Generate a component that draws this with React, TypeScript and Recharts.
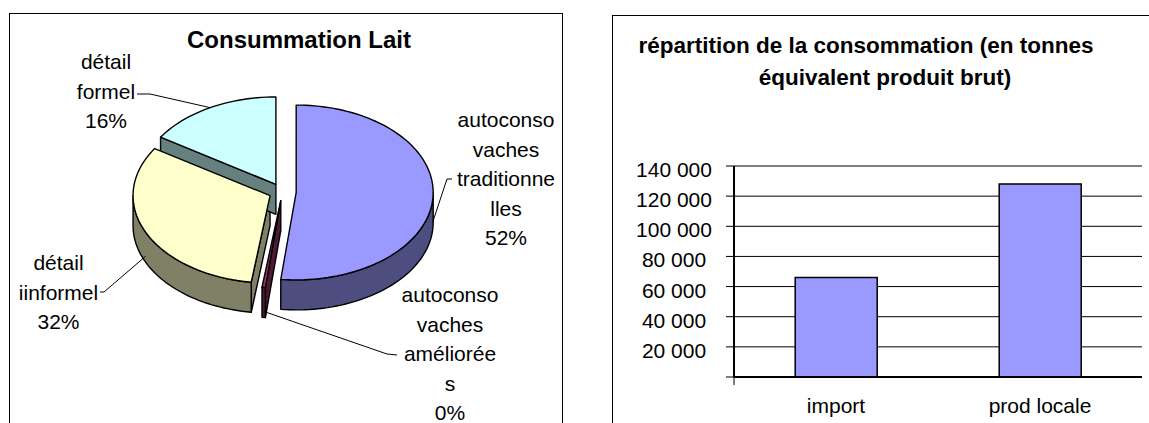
import React from 'react';
import { PieChart, Pie, BarChart, Bar, XAxis, YAxis, CartesianGrid } from 'recharts';

// pie: Consummation Lait
const pieNames = [
  'autoconso vaches traditionnelles',
  'autoconso vaches améliorées',
  'détail iinformel',
  'détail formel',
];
const pieValues = [52, 0.4, 32, 16];
const pieLabelLines = [
  ['autoconso', 'vaches', 'traditionne', 'lles'],
  ['autoconso', 'vaches', 'améliorée', 's'],
  ['détail', 'iinformel'],
  ['détail', 'formel'],
];
const pieColors = ['#9999FF', '#993366', '#FFFFCC', '#CCFFFF'];
const pieSideColors = ['#4D4D80', '#4D1A33', '#808066', '#668080'];

// bars: répartition de la consommation
const barCategories = ['import', 'prod locale'];
const barValues = [66000, 128000];
const yTicks = [0, 20000, 40000, 60000, 80000, 100000, 120000, 140000];

const FONT = 'Arial, "Liberation Sans", sans-serif';
const TILT = 0.638;
const DEPTH = 30;
const EXPLODE = 0.1;
const RAD = Math.PI / 180;
const LINE_H = 29.5;

// label placement relative to pie centre (Excel moved these by hand)
const pieLabelLayout = [
  { tx: 223.5, ty: -65, lead: [[169.5, -13], [164.5, -13]] },
  { tx: 167.5, ty: 110, lead: [[114.5, 163], [104.5, 162]] },
  { tx: -224, ty: 78, lead: [[-182.5, 100], [-178.5, 100]] },
  { tx: -176.5, ty: -123, lead: [[-145.5, -98], [-132.5, -98]] },
];

const pieData = pieNames.map((name, i) => ({
  name,
  value: pieValues[i],
  fill: pieColors[i],
  side: pieSideColors[i],
}));
const barData = barCategories.map((name, i) => ({ name, value: barValues[i] }));
const edgeTicks = [...barCategories.map((_, i) => i), barCategories.length];

type Pt = [number, number];

function geom(p: any) {
  const rx = p.outerRadius;
  const ry = rx * TILT;
  const mid = (p.startAngle + p.endAngle) / 2;
  const ox = p.cx + EXPLODE * rx * Math.cos(mid * RAD);
  const oy = p.cy - EXPLODE * ry * Math.sin(mid * RAD);
  return { rx, ry, ox, oy };
}

function ept(g: any, a: number): Pt {
  return [g.ox + g.rx * Math.cos(a * RAD), g.oy - g.ry * Math.sin(a * RAD)];
}

function arcPts(g: any, from: number, to: number): Pt[] {
  const n = Math.max(2, Math.ceil(Math.abs(to - from) / 2) + 1);
  const pts: Pt[] = [];
  for (let i = 0; i < n; i++) pts.push(ept(g, from + ((to - from) * i) / (n - 1)));
  return pts;
}

const toPath = (pts: Pt[]) => 'M' + pts.map((p) => p[0].toFixed(2) + ',' + p[1].toFixed(2)).join('L') + 'Z';

function SliceSide(props: any) {
  const g = geom(props);
  const side = props.payload?.side ?? props.side;
  const s = props.startAngle;
  const e = props.endAngle;
  const parts: Pt[][] = [];
  const radial = (a: number): Pt[] => {
    const [px, py] = ept(g, a);
    return [[g.ox, g.oy], [px, py], [px, py + DEPTH], [g.ox, g.oy + DEPTH]];
  };
  if (Math.cos(s * RAD) < -1e-6) parts.push(radial(s));
  if (Math.cos(e * RAD) > 1e-6) parts.push(radial(e));
  const hi = Math.min(s, 0);
  const lo = Math.max(e, -180);
  if (hi > lo) {
    const top = arcPts(g, hi, lo);
    const bottom = top.map(([x, y]) => [x, y + DEPTH] as Pt).reverse();
    parts.push([...top, ...bottom]);
  }
  return (
    <g>
      {parts.map((p, i) => (
        <path key={i} d={toPath(p)} fill={side} stroke="#000" strokeWidth={1.4} strokeLinejoin="round" />
      ))}
    </g>
  );
}

function SliceTop(props: any) {
  const g = geom(props);
  const pts: Pt[] = [[g.ox, g.oy], ...arcPts(g, props.startAngle, props.endAngle)];
  return <path d={toPath(pts)} fill={props.fill} stroke="#000" strokeWidth={1.4} strokeLinejoin="round" />;
}

function PieLabel(props: any) {
  const { cx, cy, midAngle, outerRadius, percent, index } = props;
  const lay = pieLabelLayout[index];
  const rx = outerRadius;
  const ry = rx * TILT;
  const ox = cx + EXPLODE * rx * Math.cos(midAngle * RAD);
  const oy = cy - EXPLODE * ry * Math.sin(midAngle * RAD);
  const ex = ox + rx * Math.cos(midAngle * RAD);
  const ey = oy - ry * Math.sin(midAngle * RAD) + (Math.sin(midAngle * RAD) < 0 ? DEPTH * 0.8 : 0);
  const lines = [...pieLabelLines[index], `${Math.round(percent * 100)}%`];
  const pts = `${cx + lay.lead[0][0]},${cy + lay.lead[0][1]} ${cx + lay.lead[1][0]},${cy + lay.lead[1][1]} ${ex},${ey}`;
  return (
    <g>
      <polyline points={pts} fill="none" stroke="#000" strokeWidth={1} />
      <text x={cx + lay.tx} y={cy + lay.ty} textAnchor="middle" fontSize={21} fontFamily={FONT} fill="#000">
        {lines.map((l, i) => (
          <tspan key={i} x={cx + lay.tx} dy={i === 0 ? 0 : LINE_H}>
            {l}
          </tspan>
        ))}
      </text>
    </g>
  );
}

const fmt = (v: number) => String(v).replace(/\B(?=(\d{3})+(?!\d))/g, '\u00a0');

function YTick(props: any) {
  const { x, y, payload } = props;
  if (payload.value === 0) return <g />;
  return (
    <text x={x - 52} y={y} dy={11} textAnchor="middle" fontSize={21} fontFamily={FONT} fill="#000">
      {fmt(payload.value)}
    </text>
  );
}

function CatTick(props: any) {
  const { x, y, payload } = props;
  return (
    <text x={x} y={y} dy={28} textAnchor="middle" fontSize={21} fontFamily={FONT} fill="#000">
      {payload.value}
    </text>
  );
}

export default function App() {
  return (
    <div style={{ position: 'absolute', left: 0, top: 0, width: 1149, height: 423, overflow: 'hidden', background: '#fff', fontFamily: FONT }}>
      <div style={{ position: 'absolute', left: 9, top: 13 }}>
        <PieChart width={553} height={410} margin={{ top: 0, right: 0, bottom: 0, left: 0 }}>
          <Pie
            data={pieData}
            dataKey="value"
            nameKey="name"
            cx={273.5}
            cy={179}
            outerRadius={137}
            startAngle={90}
            endAngle={-270}
            stroke="none"
            shape={SliceSide}
            activeShape={SliceSide}
            inactiveShape={SliceSide}
            label={false}
            labelLine={false}
            isAnimationActive={false}
          />
          <Pie
            data={pieData}
            dataKey="value"
            nameKey="name"
            cx={273.5}
            cy={179}
            outerRadius={137}
            startAngle={90}
            endAngle={-270}
            stroke="none"
            shape={SliceTop}
            activeShape={SliceTop}
            inactiveShape={SliceTop}
            label={PieLabel}
            labelLine={false}
            isAnimationActive={false}
          />
        </PieChart>
      </div>

      <div style={{ position: 'absolute', left: 612, top: 15 }}>
        <BarChart
          width={537}
          height={408}
          data={barData}
          margin={{ top: 151, right: 7, bottom: 0, left: 62 }}
          barCategoryGap="30%"
        >
          <CartesianGrid vertical={false} stroke="#000" strokeWidth={1} />
          <XAxis
            xAxisId="b"
            dataKey="name"
            height={38}
            tickSize={0}
            tickMargin={0}
            axisLine={false}
            tickLine={false}
            tick={<CatTick />}
          />
          <XAxis
            xAxisId="a"
            type="number"
            domain={[0, barCategories.length]}
            ticks={edgeTicks}
            allowDataOverflow
            height={8}
            tickSize={8}
            tick={() => <g />}
            axisLine={{ stroke: '#000', strokeWidth: 2 }}
            tickLine={{ stroke: '#000' }}
          />
          <YAxis
            domain={[0, 140000]}
            ticks={yTicks}
            interval={0}
            width={60}
            tickSize={8}
            tickMargin={0}
            axisLine={{ stroke: '#000', strokeWidth: 2 }}
            tickLine={{ stroke: '#000' }}
            tick={<YTick />}
          />
          <YAxis
            yAxisId="r"
            orientation="right"
            width={0}
            domain={[0, 140000]}
            tick={false}
            tickLine={false}
            axisLine={{ stroke: '#000', strokeWidth: 1.5 }}
          />
          <Bar xAxisId="b" dataKey="value" fill="#9999FF" stroke="#000" strokeWidth={1.5} isAnimationActive={false} />
        </BarChart>
      </div>

      <svg width={1149} height={423} style={{ position: 'absolute', left: 0, top: 0, pointerEvents: 'none' }}>
        <rect x={9.5} y={13.5} width={553} height={500} fill="none" stroke="#000" strokeWidth={1} />
        <rect x={612.5} y={15.5} width={600} height={500} fill="none" stroke="#000" strokeWidth={1} />
        <text x={299} y={48} textAnchor="middle" fontSize={24} fontWeight="bold" fontFamily={FONT} fill="#000">
          Consummation Lait
        </text>
        <text x={866} y={53} textAnchor="middle" fontSize={22.5} fontWeight="bold" fontFamily={FONT} fill="#000">
          répartition de la consommation (en tonnes
        </text>
        <text x={885} y={85} textAnchor="middle" fontSize={22.5} fontWeight="bold" fontFamily={FONT} fill="#000">
          équivalent produit brut)
        </text>
      </svg>
    </div>
  );
}
